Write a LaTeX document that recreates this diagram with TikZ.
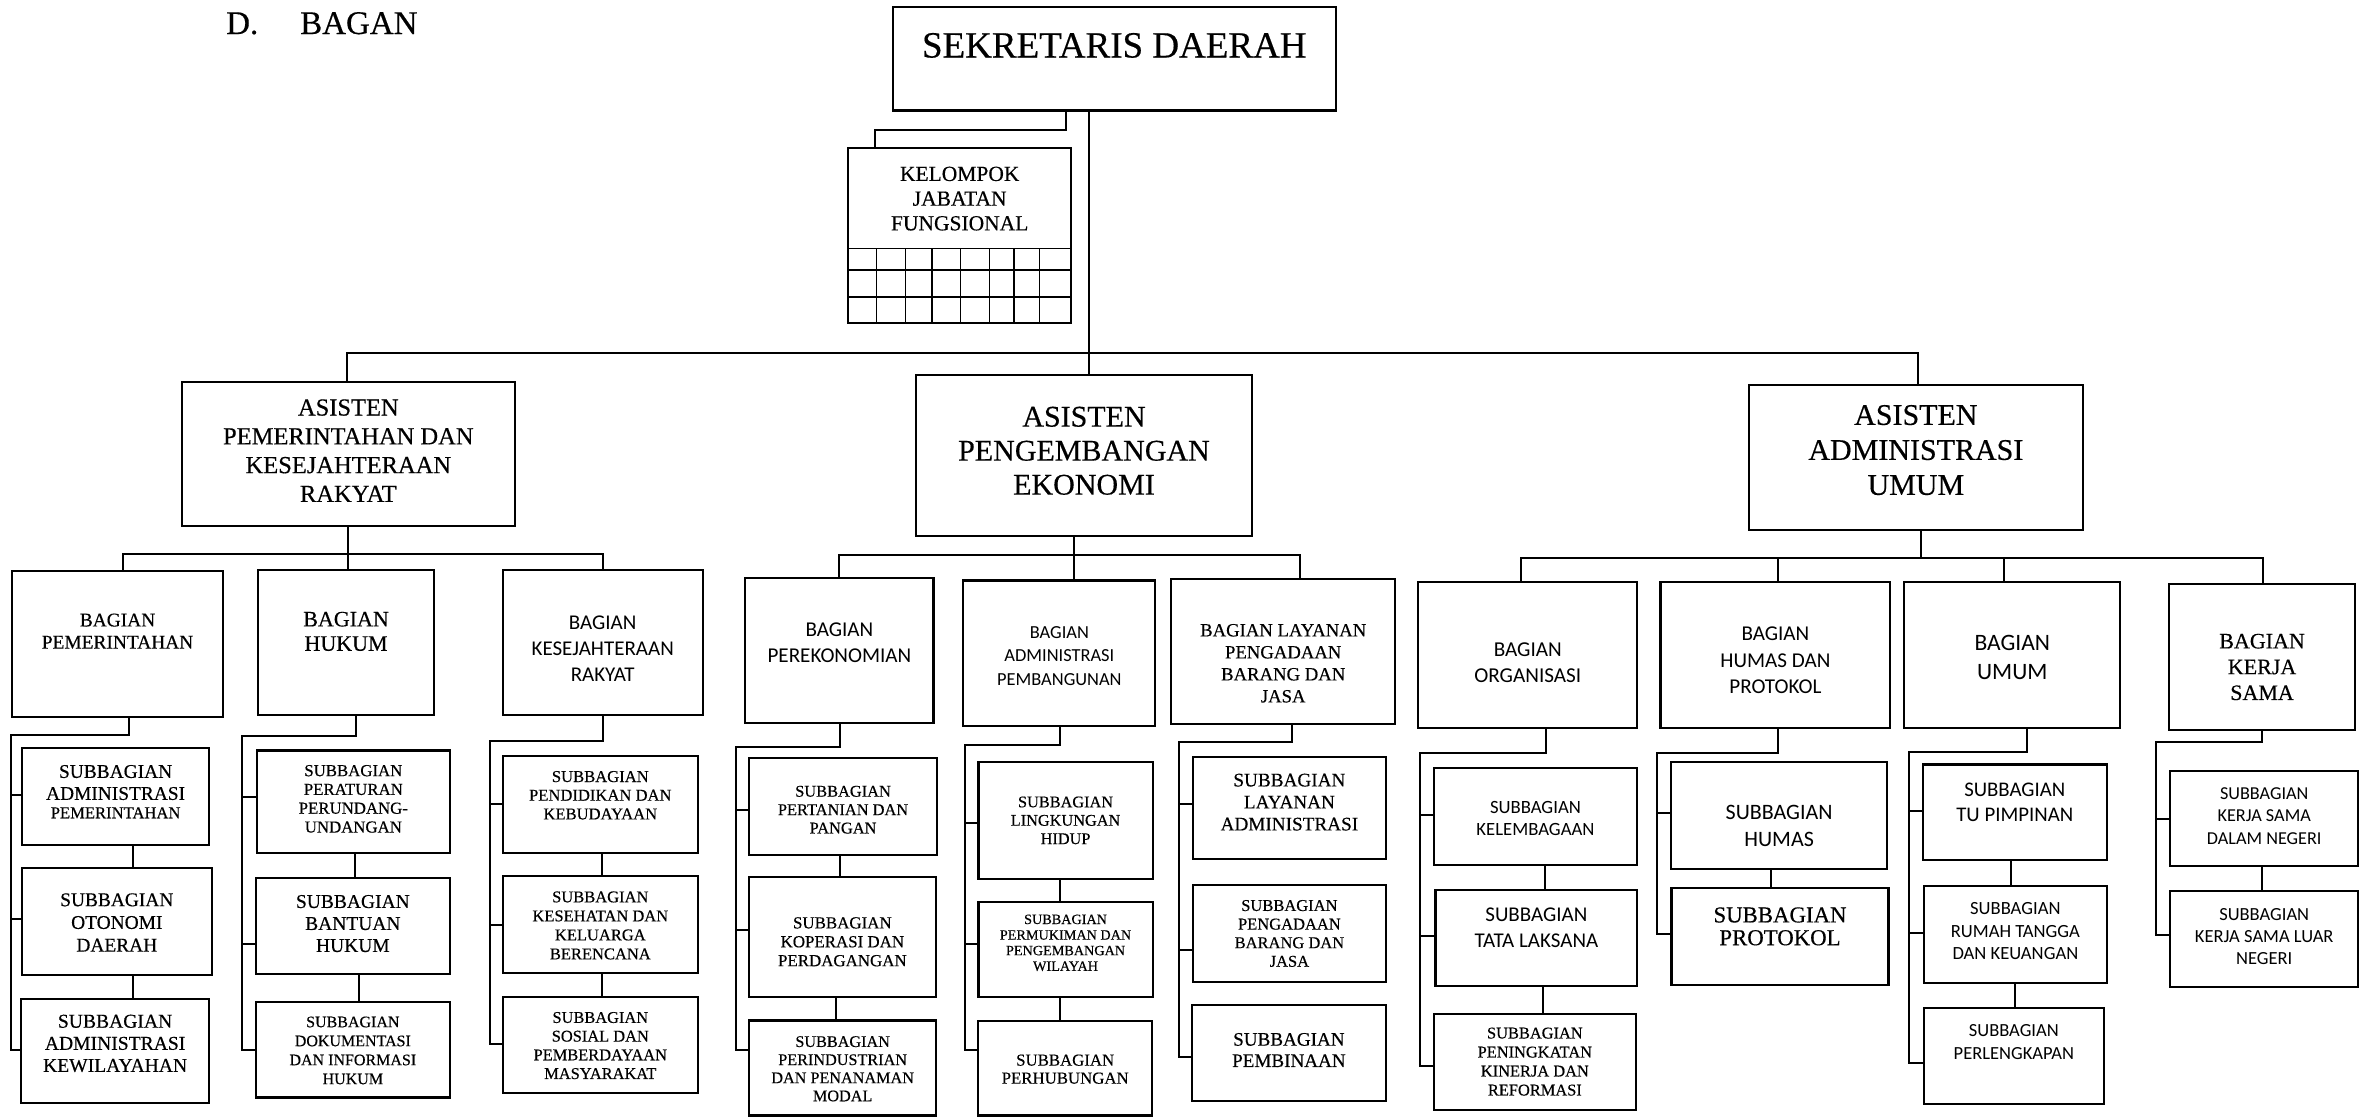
\documentclass[tikz,border=0pt]{standalone}
\usepackage{fontspec}
\setmainfont{Liberation Serif}[FakeBold=0.4]
\newfontfamily\sansfam{Carlito}
\newcommand\serifat[2]{\rmfamily\fontsize{#1pt}{#2pt}\selectfont}
\newcommand\sansat[2]{\sansfam\fontsize{#1pt}{#2pt}\selectfont}
% box from (x1,y1) to (x2,y2), y measured downwards
\newcommand\orgbox[5]{%
  \node[obox, minimum width={#4-#2}, minimum height={#5-#3}] (#1) at ({(#2+#4)/2},{(#3+#5)/2}) {};}
% text block hanging from its cap line at y, centred on a box
\newcommand\orgtext[5]{%
  \node[otext, font=#4] (#1) at (#2 |- 0,#3) {#5};}
\tikzset{
  obox/.style={draw, line width=2.1pt, inner sep=0pt, outer sep=0pt, rectangle},
  otext/.style={anchor=north, inner sep=0pt, outer sep=0pt, align=center},
  conn/.style={line width=2pt},
  grid/.style={line width=1.6pt}
}
\begin{document}
\begin{tikzpicture}[x=1pt,y=-1pt]
\useasboundingbox[fill=white] (0,0) rectangle (2361,1117);

% heading
\node[anchor=base west, inner sep=0pt, font=\serifat{33}{40}] (ttlD) at (226,34) {D.};
\node[anchor=base west, inner sep=0pt, font=\serifat{33}{40}] (ttlB) at (300,34) {BAGAN};

% ---------- top level ----------
\orgbox{sekda}{893}{7.3}{1335.6}{110.5}
\orgtext{tsekda}{sekda}{33}{\serifat{37}{44}}{SEKRETARIS DAERAH}

\orgbox{kjf}{848}{148.3}{1071.4}{323.3}
\orgtext{tkjf}{kjf}{166.7}{\serifat{21.5}{24.7}}{KELOMPOK\\JABATAN\\FUNGSIONAL}
\draw[grid] (kjf.west |- 0,248.3) -- (kjf.east |- 0,248.3);
\draw[grid] (kjf.west |- 0,270) -- (kjf.east |- 0,270);
\draw[grid] (kjf.west |- 0,296.7) -- (kjf.east |- 0,296.7);
\foreach \gx in {876.3,905.4,932.1,960.5,989.5,1014,1039.3}
  \draw[grid] (\gx,248.3) -- (kjf.south -| \gx,0);

\draw[conn] (sekda.south -| 1066,0) -- (1066,130) -- (875,130) -- (kjf.north -| 875,0);

% ---------- assistants ----------
\orgbox{asis1}{181.7}{381.7}{515}{525.7}
\orgtext{tasis1}{asis1}{399.3}{\serifat{24.5}{28.8}}{ASISTEN\\PEMERINTAHAN DAN\\KESEJAHTERAAN\\RAKYAT}
\orgbox{asis2}{915.7}{375}{1252.3}{535.7}
\orgtext{tasis2}{asis2}{406.7}{\serifat{30}{34}}{ASISTEN\\PENGEMBANGAN\\EKONOMI}
\orgbox{asis3}{1749}{385}{2082.7}{530.3}
\orgtext{tasis3}{asis3}{405}{\serifat{30}{35}}{ASISTEN\\ADMINISTRASI\\UMUM}

\draw[conn] (sekda.south -| 1089,0) -- (asis2.north -| 1089,0);
\draw[conn] (asis1.north -| 347,0) -- (347,353.3) -- (1918,353.3) -- (asis3.north -| 1918,0);

% ---------- group 1 ----------
\orgbox{bpem}{12.1}{571.3}{223}{716.6}
\orgtext{tbpem}{bpem}{613.6}{\serifat{19.4}{22.1}}{BAGIAN\\PEMERINTAHAN}
\orgbox{bhuk}{258.3}{570}{433.8}{714.8}
\orgtext{tbhuk}{bhuk}{611.8}{\serifat{22}{24.4}}{BAGIAN\\HUKUM}
\orgbox{bkes}{502.6}{570}{702.8}{714.8}
\orgtext{tbkes}{bkes}{615.4}{\sansat{21}{26.4}}{BAGIAN\\KESEJAHTERAAN\\RAKYAT}

\draw[conn] (asis1.south -| 348,0) -- (348,553.6);
\draw[conn] (bpem.north -| 122.6,0) -- (122.6,553.6) -- (603.4,553.6) -- (bkes.north -| 603.4,0);
\draw[conn] (348,553.6) -- (bhuk.north -| 348,0);

% column: pemerintahan
\orgbox{sa1}{21.8}{747.9}{209.4}{844.7}
\orgtext{tsa1}{sa1}{765}{\serifat{19.4}{22}}{SUBBAGIAN\\ADMINISTRASI\\[-3.6pt]{\fontsize{16.6pt}{18.4pt}\selectfont PEMERINTAHAN}}
\orgbox{sa2}{21.8}{868.2}{211.8}{975.3}
\orgtext{tsa2}{sa2}{893.3}{\serifat{19.4}{22.7}}{SUBBAGIAN\\OTONOMI\\DAERAH}
\orgbox{sa3}{20.8}{999.3}{209.4}{1103}
\orgtext{tsa3}{sa3}{1014.7}{\serifat{19.6}{22.1}}{SUBBAGIAN\\ADMINISTRASI\\KEWILAYAHAN}
\draw[conn] (bpem.south -| 129.4,0) -- (129.4,735) -- (10.7,735) -- (10.7,1049.7) -- (sa3.west |- 0,1049.7);
\draw[conn] (10.7,794.7) -- (sa1.west |- 0,794.7);
\draw[conn] (10.7,919) -- (sa2.west |- 0,919);
\draw[conn] (sa1.south -| 133.3,0) -- (sa2.north -| 133.3,0);
\draw[conn] (sa2.south -| 133.3,0) -- (sa3.north -| 133.3,0);

% column: hukum
\orgbox{sb1}{256.9}{750.5}{449.8}{852.8}
\orgtext{tsb1}{sb1}{765}{\serifat{16.8}{18.8}}{SUBBAGIAN\\PERATURAN\\PERUNDANG-\\UNDANGAN}
\orgbox{sb2}{255.9}{877.8}{449.8}{974.2}
\orgtext{tsb2}{sb2}{895}{\serifat{19.5}{22}}{SUBBAGIAN\\BANTUAN\\HUKUM}
\orgbox{sb3}{255.9}{1001.8}{449.8}{1097.5}
\orgtext{tsb3}{sb3}{1016.6}{\serifat{16}{19}}{SUBBAGIAN\\DOKUMENTASI\\DAN INFORMASI\\HUKUM}
\draw[conn] (bhuk.south -| 356.3,0) -- (356.3,736) -- (242.4,736) -- (242.4,1049.7) -- (sb3.west |- 0,1049.7);
\draw[conn] (242.4,796.9) -- (sb1.west |- 0,796.9);
\draw[conn] (242.4,943.7) -- (sb2.west |- 0,943.7);
\draw[conn] (sb1.south -| 354.8,0) -- (sb2.north -| 354.8,0);
\draw[conn] (sb2.south -| 358.7,0) -- (sb3.north -| 358.7,0);

% column: kesejahteraan rakyat
\orgbox{sc1}{502.6}{756.4}{698}{852.8}
\orgtext{tsc1}{sc1}{771}{\serifat{16.6}{18.7}}{SUBBAGIAN\\PENDIDIKAN DAN\\KEBUDAYAAN}
\orgbox{sc2}{502.6}{876}{698}{973.1}
\orgtext{tsc2}{sc2}{891.4}{\serifat{16.5}{19}}{SUBBAGIAN\\KESEHATAN DAN\\KELUARGA\\BERENCANA}
\orgbox{sc3}{502.6}{997}{698}{1092.7}
\orgtext{tsc3}{sc3}{1012}{\serifat{16.4}{18.7}}{SUBBAGIAN\\SOSIAL DAN\\PEMBERDAYAAN\\MASYARAKAT}
\draw[conn] (bkes.south -| 603.4,0) -- (603.4,740.6) -- (489.5,740.6) -- (489.5,1044.2) -- (sc3.west |- 0,1044.2);
\draw[conn] (489.5,804.2) -- (sc1.west |- 0,804.2);
\draw[conn] (489.5,924.6) -- (sc2.west |- 0,924.6);
\draw[conn] (sc1.south -| 602,0) -- (sc2.north -| 602,0);
\draw[conn] (sc2.south -| 602,0) -- (sc3.north -| 602,0);

% ---------- group 2 ----------
\orgbox{bper}{745.3}{577.9}{933.5}{723.3}
\orgtext{tbper}{bper}{622.8}{\sansat{21.1}{25.8}}{BAGIAN\\PEREKONOMIAN}
\orgbox{badm}{963.4}{580.5}{1155.3}{725.8}
\orgtext{tbadm}{badm}{626.5}{\sansat{18.4}{23.4}}{BAGIAN\\ADMINISTRASI\\PEMBANGUNAN}
\orgbox{blay}{1171.4}{578.6}{1395}{724}
\orgtext{tblay}{blay}{624}{\serifat{18.7}{22}}{BAGIAN LAYANAN\\PENGADAAN\\BARANG DAN\\JASA}

\draw[conn] (asis2.south -| 1073.6,0) -- (1073.6,554.7);
\draw[conn] (bper.north -| 838.5,0) -- (838.5,554.7) -- (1299.5,554.7) -- (blay.north -| 1299.5,0);
\draw[conn] (1073.6,554.7) -- (badm.north -| 1073.6,0);

% column: perekonomian
\orgbox{sd1}{748.9}{758.2}{937.2}{854.6}
\orgtext{tsd1}{sd1}{785.8}{\serifat{16.4}{18.4}}{SUBBAGIAN\\PERTANIAN DAN\\PANGAN}
\orgbox{sd2}{748.9}{876.7}{935.8}{997.4}
\orgtext{tsd2}{sd2}{917.2}{\serifat{16.9}{18.9}}{SUBBAGIAN\\KOPERASI DAN\\PERDAGANGAN}
\orgbox{sd3}{749.3}{1020.5}{936}{1115.5}
\orgtext{tsd3}{sd3}{1036.2}{\serifat{16.2}{18.1}}{SUBBAGIAN\\PERINDUSTRIAN\\DAN PENANAMAN\\MODAL}
\draw[conn] (bper.south -| 840.3,0) -- (840.3,746.8) -- (736.4,746.8) -- (736.4,1050.4) -- (sd3.west |- 0,1050.4);
\draw[conn] (736.4,809.7) -- (sd1.west |- 0,809.7);
\draw[conn] (736.4,930) -- (sd2.west |- 0,930);
\draw[conn] (sd1.south -| 840.3,0) -- (sd2.north -| 840.3,0);
\draw[conn] (sd2.south -| 836.2,0) -- (sd3.north -| 836.2,0);

% column: administrasi pembangunan
\orgbox{se1}{978.5}{761.9}{1152.6}{878.6}
\orgtext{tse1}{se1}{796.5}{\serifat{16.3}{18.4}}{SUBBAGIAN\\LINGKUNGAN\\HIDUP}
\orgbox{se2}{978.5}{901.7}{1152.6}{997.4}
\orgtext{tse2}{se2}{914.6}{\serifat{14.2}{15.6}}{SUBBAGIAN\\PERMUKIMAN DAN\\PENGEMBANGAN\\WILAYAH}
\orgbox{se3}{978}{1021.2}{1152.4}{1115.5}
\orgtext{tse3}{se3}{1054.5}{\serifat{16.8}{18}}{SUBBAGIAN\\PERHUBUNGAN}
\draw[conn] (badm.south -| 1059.8,0) -- (1059.8,745) -- (964.8,745) -- (964.8,1049.5) -- (se3.west |- 0,1049.5);
\draw[conn] (964.8,823.4) -- (se1.west |- 0,823.4);
\draw[conn] (964.8,943.7) -- (se2.west |- 0,943.7);
\draw[conn] (se1.south -| 1059.8,0) -- (se2.north -| 1059.8,0);
\draw[conn] (se2.south -| 1059.8,0) -- (se3.north -| 1059.8,0);

% column: layanan pengadaan
\orgbox{sf1}{1193}{757.1}{1385.8}{859.4}
\orgtext{tsf1}{sf1}{773.7}{\serifat{19.2}{22}}{SUBBAGIAN\\LAYANAN\\ADMINISTRASI}
\orgbox{sf2}{1193}{885.2}{1385.8}{981.6}
\orgtext{tsf2}{sf2}{900}{\serifat{16.5}{18.6}}{SUBBAGIAN\\PENGADAAN\\BARANG DAN\\JASA}
\orgbox{sf3}{1192}{1004.8}{1385.8}{1101.2}
\orgtext{tsf3}{sf3}{1033}{\serifat{19.1}{21.3}}{SUBBAGIAN\\PEMBINAAN}
\draw[conn] (blay.south -| 1291.7,0) -- (1291.7,742.4) -- (1179.2,742.4) -- (1179.2,1057) -- (sf3.west |- 0,1057);
\draw[conn] (1179.2,804.2) -- (sf1.west |- 0,804.2);
\draw[conn] (1179.2,950.3) -- (sf2.west |- 0,950.3);

% ---------- group 3 ----------
\orgbox{borg}{1418.4}{582.3}{1637.2}{727.7}
\orgtext{tborg}{borg}{642.3}{\sansat{21.2}{26.5}}{BAGIAN\\ORGANISASI}
\orgbox{bhum}{1660.5}{582.3}{1890.3}{727.7}
\orgtext{tbhum}{bhum}{627.2}{\sansat{21.1}{26.3}}{BAGIAN\\HUMAS DAN\\PROTOKOL}
\orgbox{bumu}{1904.4}{582.3}{2120.2}{728.4}
\orgtext{tbumu}{bumu}{635}{\sansat{23.5}{29.4}}{BAGIAN\\UMUM}
\orgbox{bker}{2169.2}{584.2}{2354.9}{730.3}
\orgtext{tbker}{bker}{633.8}{\serifat{22}{25.8}}{BAGIAN\\KERJA\\SAMA}

\draw[conn] (asis3.south -| 1921,0) -- (1921,557.7);
\draw[conn] (borg.north -| 1520.7,0) -- (1520.7,557.7) -- (2263,557.7) -- (bker.north -| 2263,0);
\draw[conn] (1778.2,557.7) -- (bhum.north -| 1778.2,0);
\draw[conn] (2003.7,557.7) -- (bumu.north -| 2003.7,0);

% column: organisasi
\orgbox{sg1}{1433.7}{768.2}{1637.2}{864.6}
\orgtext{tsg1}{sg1}{801.3}{\sansat{18.7}{22}}{SUBBAGIAN\\KELEMBAGAAN}
\orgbox{sg2}{1435.5}{889.6}{1637.2}{986.4}
\orgtext{tsg2}{sg2}{908}{\sansat{21}{25.8}}{SUBBAGIAN\\TATA LAKSANA}
\orgbox{sg3}{1433.7}{1013.6}{1636}{1110.4}
\orgtext{tsg3}{sg3}{1027.6}{\serifat{16.4}{19}}{SUBBAGIAN\\PENINGKATAN\\KINERJA DAN\\REFORMASI}
\draw[conn] (borg.south -| 1545.9,0) -- (1545.9,752.7) -- (1420.2,752.7) -- (1420.2,1066.2) -- (sg3.west |- 0,1066.2);
\draw[conn] (1420.2,815.3) -- (sg1.west |- 0,815.3);
\draw[conn] (1420.2,935.6) -- (sg2.west |- 0,935.6);
\draw[conn] (sg1.south -| 1545.3,0) -- (sg2.north -| 1545.3,0);
\draw[conn] (sg2.south -| 1542.8,0) -- (sg3.north -| 1542.8,0);

% column: humas dan protokol
\orgbox{sh1}{1670.9}{761.9}{1887.3}{868.6}
\orgtext{tsh1}{sh1}{805}{\sansat{22}{26.8}}{SUBBAGIAN\\HUMAS}
\orgbox{sh2}{1671.5}{887.8}{1888.5}{985.3}
\orgtext{tsh2}{sh2}{907.3}{\serifat{22.8}{22.8}}{SUBBAGIAN\\PROTOKOL}
\draw[conn] (bhum.south -| 1778.2,0) -- (1778.2,752.7) -- (1657.4,752.7) -- (1657.4,933.8) -- (sh2.west |- 0,933.8);
\draw[conn] (1657.4,813) -- (sh1.west |- 0,813);
\draw[conn] (sh1.south -| 1770.8,0) -- (sh2.north -| 1770.8,0);

% column: umum
\orgbox{si1}{1922.8}{764.5}{2106.7}{860.2}
\orgtext{tsi1}{si1}{782.9}{\sansat{20.8}{25}}{SUBBAGIAN\\TU PIMPINAN}
\orgbox{si2}{1924}{885.9}{2106.7}{982.7}
\orgtext{tsi2}{si2}{902.5}{\sansat{18.6}{22.6}}{SUBBAGIAN\\RUMAH TANGGA\\DAN KEUANGAN}
\orgbox{si3}{1924}{1008}{2103.6}{1103.8}
\orgtext{tsi3}{si3}{1024}{\sansat{18.5}{23}}{SUBBAGIAN\\PERLENGKAPAN}
\draw[conn] (bumu.south -| 2027,0) -- (2027,751.6) -- (1908.7,751.6) -- (1908.7,1062.6) -- (si3.west |- 0,1062.6);
\draw[conn] (1908.7,810.5) -- (si1.west |- 0,810.5);
\draw[conn] (1908.7,933) -- (si2.west |- 0,933);
\draw[conn] (si1.south -| 2011,0) -- (si2.north -| 2011,0);
\draw[conn] (si2.south -| 2014.7,0) -- (si3.north -| 2014.7,0);

% column: kerja sama
\orgbox{sj1}{2170.4}{770.7}{2358}{866.4}
\orgtext{tsj1}{sj1}{787.3}{\sansat{18.2}{22.6}}{SUBBAGIAN\\KERJA SAMA\\DALAM NEGERI}
\orgbox{sj2}{2170.4}{891.4}{2358}{987.1}
\orgtext{tsj2}{sj2}{908}{\sansat{18.5}{22.4}}{SUBBAGIAN\\KERJA SAMA LUAR\\NEGERI}
\draw[conn] (bker.south -| 2262.4,0) -- (2262.4,741.7) -- (2155.7,741.7) -- (2155.7,934.9) -- (sj2.west |- 0,934.9);
\draw[conn] (2155.7,818.6) -- (sj1.west |- 0,818.6);
\draw[conn] (sj1.south -| 2262.4,0) -- (sj2.north -| 2262.4,0);

\end{tikzpicture}
\end{document}
